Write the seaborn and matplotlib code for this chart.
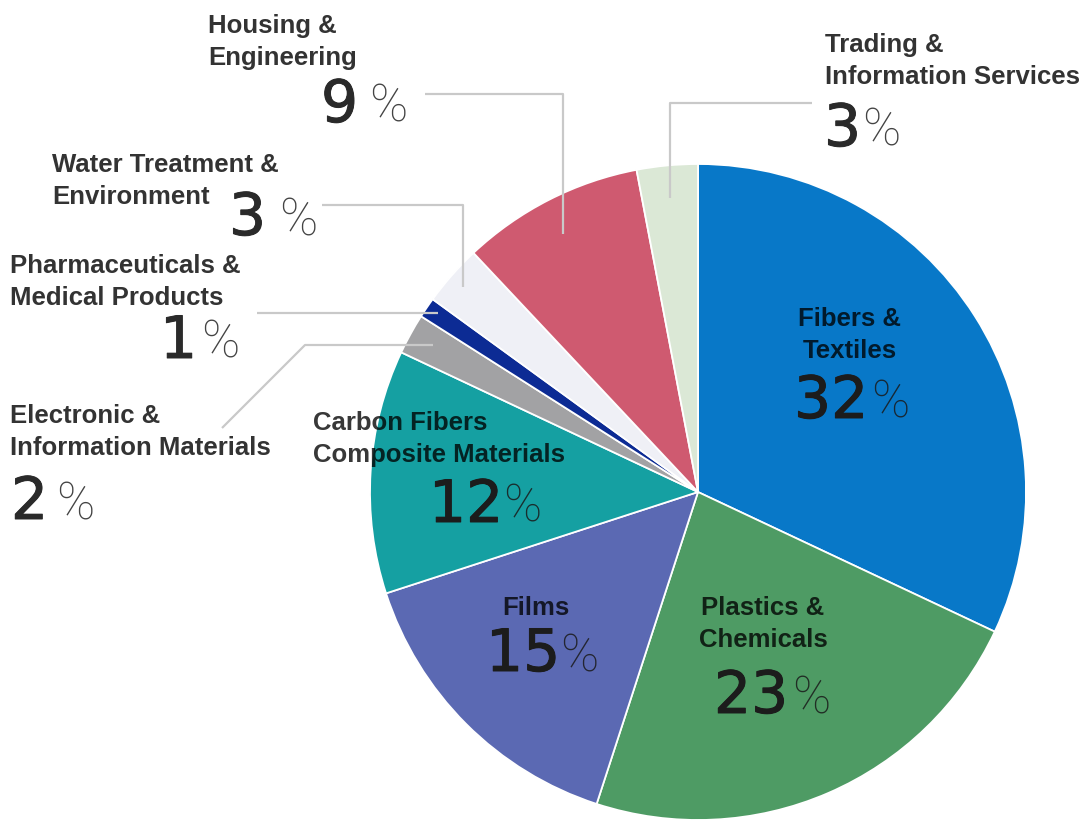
import matplotlib
matplotlib.use("Agg")
import matplotlib.pyplot as plt
import matplotlib.patheffects as pe
import seaborn as sns

# segment shares (clockwise from 12 o'clock)
segments = ["Fibers &\nTextiles", "Plastics &\nChemicals", "Films",
            "Carbon Fibers\nComposite Materials", "Electronic &\nInformation Materials",
            "Pharmaceuticals &\nMedical Products", "Water Treatment &\nEnvironment",
            "Housing &\nEngineering", "Trading &\nInformation Services"]
shares = [32, 23, 15, 12, 2, 1, 3, 9, 3]
slice_colors = ["#0878c8", "#4e9b64", "#5b69b3", "#15a0a2", "#a2a2a4",
                "#0c2b94", "#eff0f6", "#cf5a70", "#dbe8d6"]

# label layout in pixel coords: (x, first baseline, ha, digit x, digit baseline, % x, inside)
label_layout = [
    (850, 326, "center", 794, 418, 871, True),
    (763, 615, "center", 714, 713, 792, True),
    (536, 615, "center", 486, 671, 560, True),
    (313, 430, "left", 429, 522, 503, True),
    (10, 423, "left", 11, 519, 56, False),
    (10, 273, "left", 160, 358, 201, False),
    (52, 172, "left", 229, 235, 279, False),
    (208, 33, "left", 321, 122, 369, False),
    (825, 52, "left", 824, 146, 862, False),
]
leaders = [
    [(222, 428), (305, 345), (433, 345)],
    [(257, 313), (438, 313)],
    [(322, 205), (463, 205), (463, 287)],
    [(425, 94), (563, 94), (563, 234)],
    [(812, 103), (670, 103), (670, 198)],
]

sns.set_theme(style="white")
plt.rcParams["font.family"] = ["Liberation Sans", "DejaVu Sans"]

fig = plt.figure(figsize=(10.92, 8.31), dpi=100)
ax = fig.add_axes([0, 0, 1, 1])

ax.pie(shares, colors=sns.color_palette(slice_colors), startangle=270,
       counterclock=True, center=(698, 492), radius=328,
       wedgeprops=dict(edgecolor="white", linewidth=1.3))

for pts in leaders:
    xs, ys = zip(*pts)
    ax.plot(xs, ys, color="#c9c9c9", lw=1.6, solid_capstyle="butt")

for name, share, (x, y0, ha, dx, dy, px, inside) in zip(segments, shares, label_layout):
    lab_col = "#000000" if inside else "#333333"
    lab_alpha = 0.78 if inside else 1.0
    for i, line in enumerate(name.split("\n")):
        ax.text(x, y0 + i * 32, line, ha=ha, va="baseline", fontsize=18.5,
                fontweight="bold", color=lab_col, alpha=lab_alpha)
    num_col = "#1c1c1c" if inside else "#2a2a2a"
    ax.text(dx, dy, str(share), ha="left", va="baseline", family="DejaVu Sans",
            fontsize=42, color=num_col,
            path_effects=[pe.withStroke(linewidth=0.7, foreground=num_col)])
    ax.text(px, dy, "%", ha="left", va="baseline", family=["Roboto", "DejaVu Sans"],
            fontweight="light", fontsize=37,
            color="#1a1a1a" if inside else "#444444", alpha=0.85 if inside else 1.0)

ax.set_xlim(0, 1092)
ax.set_ylim(831, 0)
ax.set_aspect("equal")
ax.axis("off")

fig.savefig("out.png", dpi=100)
